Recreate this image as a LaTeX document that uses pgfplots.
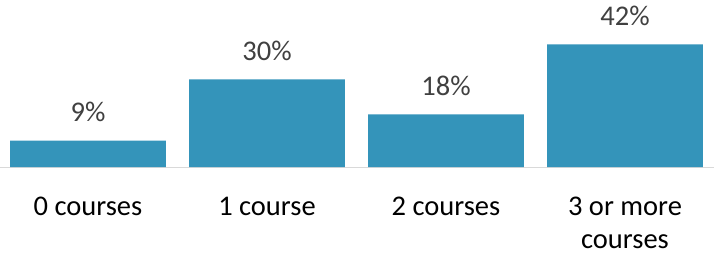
\documentclass[border=0pt]{standalone}
\usepackage{fontspec}
\setmainfont{Carlito}
\usepackage{pgfplots}
\pgfplotsset{compat=1.18}
\definecolor{barblue}{HTML}{3494BA}
\definecolor{lblgray}{HTML}{404040}
\definecolor{axgray}{HTML}{D9D9D9}
\begin{document}
\begin{tikzpicture}
\begin{axis}[
  at={(0pt,0pt)}, anchor=south west,
  scale only axis, width=716pt, height=167pt,
  xmin=-0.5, xmax=3.5, ymin=0, ymax=57.19,
  axis x line=bottom, axis y line=none,
  x axis line style={-, draw=axgray, line width=1pt},
  ybar, bar width=0.87,
  xtick={0,1,2,3},
  xticklabels={0 courses,1 course,2 courses,3 or more\\courses},
  xticklabel style={anchor=north, inner sep=0pt, yshift=-30pt, align=center, font=\fontsize{28.5}{33}\selectfont, text=black},
  major tick length=0pt,
  ytick=\empty,
  /pgf/number format/assume math mode=true,
  nodes near coords={\pgfmathprintnumber{\pgfplotspointmeta}\%},
  every node near coord/.append style={anchor=base, inner sep=0pt, yshift=19pt, font=\fontsize{28.5}{33}\selectfont, text=lblgray},
  clip=false,
]
\addplot[fill=barblue, draw=none] coordinates {(0,9) (1,30) (2,18) (3,42)};
\end{axis}
\pgfresetboundingbox
\path[use as bounding box] (1.5pt,-87pt) rectangle (715.5pt,167pt);
\end{tikzpicture}
\end{document}
